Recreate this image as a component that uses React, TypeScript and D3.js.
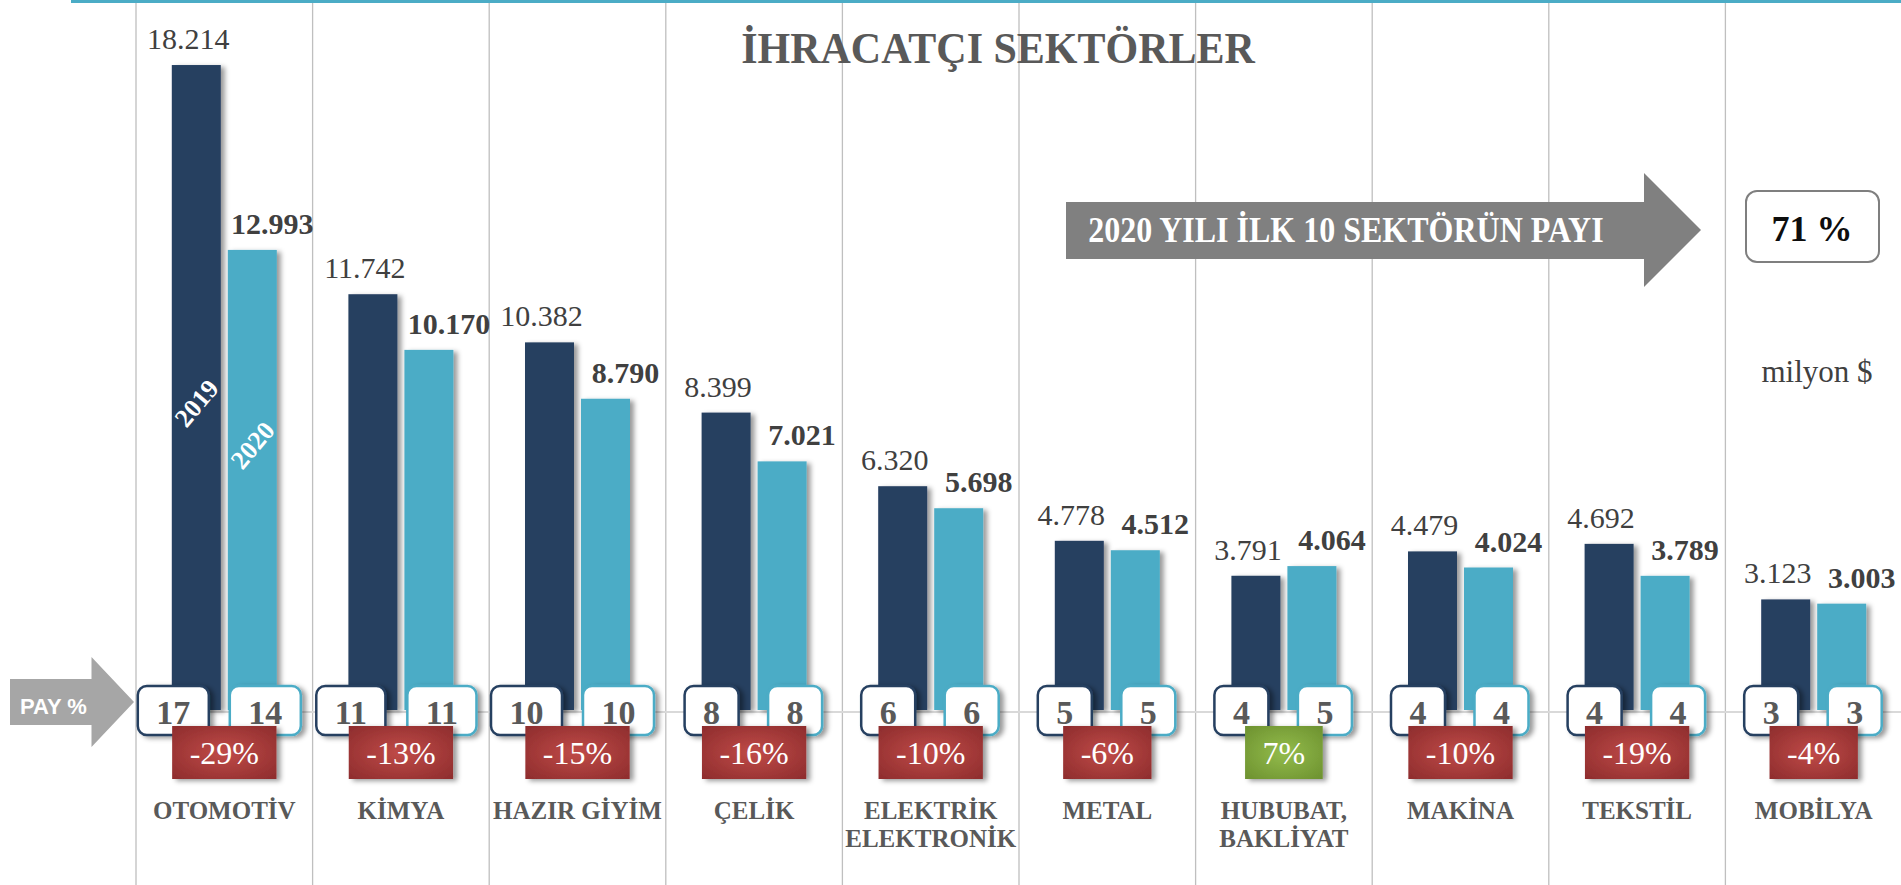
import React, { useEffect, useRef } from "react"
import * as d3 from "d3"

const WIDTH = 1901
const HEIGHT = 885

// sector names, "\n" splits a label into two lines
const sectors = [
  "OTOMOTİV", "KİMYA", "HAZIR GİYİM", "ÇELİK", "ELEKTRİK\nELEKTRONİK",
  "METAL", "HUBUBAT,\nBAKLİYAT", "MAKİNA", "TEKSTİL", "MOBİLYA"
]
const years = ["2019", "2020"]
const exports2019 = [18214, 11742, 10382, 8399, 6320, 4778, 3791, 4479, 4692, 3123]
const exports2020 = [12993, 10170, 8790, 7021, 5698, 4512, 4064, 4024, 3789, 3003]
const share2019 = [17, 11, 10, 8, 6, 5, 4, 4, 4, 3]
const share2020 = [14, 11, 10, 8, 6, 5, 5, 4, 4, 3]
const changePct = [-29, -13, -15, -16, -10, -6, 7, -10, -19, -4]
const topTenShare = 71

const NAVY = "#253F61"
const CYAN = "#4BACC6"
const SERIF = "'Liberation Serif', 'Times New Roman', serif"
const SANS = "'Liberation Sans Narrow', 'Liberation Sans', Arial, sans-serif"

const trFormat = d3.formatLocale({
  decimal: ",", thousands: ".", grouping: [3], currency: ["", " $"]
}).format(",")

function App() {
  const svgRef = useRef<SVGSVGElement>(null)

  useEffect(() => {
    const svg = d3.select(svgRef.current)
    svg.selectAll("*").remove()

    const rows = sectors.map((s, i) => ({
      sector: s,
      vals: [exports2019[i], exports2020[i]],
      shares: [share2019[i], share2020[i]],
      change: changePct[i],
    }))

    const x0 = d3.scaleBand().domain(sectors).range([136, 1902]).padding(0)
    const bw = x0.bandwidth()
    const x1 = d3.scaleBand().domain(years)
      .range([(bw - 105) / 2, (bw + 105) / 2]).paddingInner(0.125)
    const y = d3.scaleLinear().domain([0, 20000]).range([710, 1.8])

    // defs: shadows + gradients
    const defs = svg.append("defs")
    const sh = defs.append("filter").attr("id", "shadow")
      .attr("x", "-20%").attr("y", "-20%").attr("width", "150%").attr("height", "150%")
    sh.append("feDropShadow").attr("dx", 4).attr("dy", 2).attr("stdDeviation", 2.5)
      .attr("flood-color", "#000").attr("flood-opacity", 0.4)
    const grad = (id: string, inner: string, outer: string) => {
      const g = defs.append("radialGradient").attr("id", id)
        .attr("cx", "50%").attr("cy", "50%").attr("r", "75%")
      g.append("stop").attr("offset", "0%").attr("stop-color", inner)
      g.append("stop").attr("offset", "100%").attr("stop-color", outer)
    }
    grad("redGrad", "#C04B48", "#8A2A2B")
    grad("greenGrad", "#93BC4C", "#6A8E2D")

    svg.append("rect").attr("width", WIDTH).attr("height", HEIGHT).attr("fill", "#fff")

    // vertical grid lines
    svg.append("g").selectAll("line")
      .data(sectors)
      .enter().append("line")
        .attr("x1", d => x0(d)!).attr("x2", d => x0(d)!)
        .attr("y1", 0).attr("y2", HEIGHT)
        .attr("stroke", "#BFBFBF").attr("stroke-width", 1.3)

    // top rule
    svg.append("line").attr("x1", 71).attr("x2", WIDTH).attr("y1", 1.5).attr("y2", 1.5)
      .attr("stroke", CYAN).attr("stroke-width", 3)

    // axis baseline
    svg.append("line").attr("x1", 136).attr("x2", WIDTH).attr("y1", y(0) + 2).attr("y2", y(0) + 2)
      .attr("stroke", "#D9D9D9").attr("stroke-width", 2)

    // title (slightly stretched vertically like the original)
    svg.append("text")
      .attr("transform", "translate(998,63) scale(1,1.07)")
      .attr("text-anchor", "middle").attr("font-family", SERIF)
      .attr("font-size", 42).attr("font-weight", "bold").attr("fill", "#595959")
      .text("İHRACATÇI SEKTÖRLER")

    const groups = svg.append("g").selectAll("g.sector")
      .data(rows)
      .enter().append("g")
        .attr("class", "sector")
        .attr("transform", d => `translate(${x0(d.sector)},0)`)

    // bars
    groups.selectAll("rect.bar")
      .data(d => d.vals.map((v, j) => ({ year: years[j], v })))
      .enter().append("rect")
        .attr("class", "bar")
        .attr("x", d => x1(d.year)!)
        .attr("y", d => y(d.v))
        .attr("width", x1.bandwidth())
        .attr("height", d => y(0) - y(d.v))
        .attr("fill", d => d.year === "2019" ? NAVY : CYAN)
        .attr("filter", "url(#shadow)")

    // value labels
    groups.selectAll("text.val")
      .data(d => d.vals.map((v, j) => ({ year: years[j], v })))
      .enter().append("text")
        .attr("class", "val")
        .attr("x", d => x1(d.year)! + x1.bandwidth() / 2 + (d.year === "2019" ? -8 : 20))
        .attr("y", d => y(d.v) - 16)
        .attr("text-anchor", "middle")
        .attr("font-family", SERIF).attr("font-size", 30)
        .attr("font-weight", d => d.year === "2019" ? "normal" : "bold")
        .attr("fill", "#404040")
        .text(d => trFormat(d.v))

    // series names inside first bars
    svg.append("g").selectAll("text")
      .data(years)
      .enter().append("text")
        .attr("transform", (d, j) => {
          const cx = x0(sectors[0])! + x1(d)! + x1.bandwidth() / 2
          const cy = y(0) - (j === 0 ? 307 : 265)
          return `translate(${cx},${cy}) rotate(-50)`
        })
        .attr("text-anchor", "middle").attr("dy", "0.35em")
        .attr("font-family", SERIF).attr("font-size", 26).attr("font-weight", "bold")
        .attr("fill", "#fff")
        .text(d => d)

    // share (PAY %) boxes
    groups.each(function (d) {
      const g = d3.select(this)
      years.forEach((yr, j) => {
        const bx = x1(yr)!
        const box = g.append("g")
        const rect = box.append("rect")
        const t = box.append("text")
          .attr("text-anchor", "middle")
          .attr("font-family", SERIF).attr("font-size", 34).attr("font-weight", "bold")
          .attr("fill", "#595959")
          .text(String(d.shares[j]))
        const tw = (t.node() as SVGTextElement).getComputedTextLength()
        const w = tw + 37
        const left = j === 0 ? bx + 37 - w : bx + x1.bandwidth() / 2 + 13 - w / 2
        rect.attr("x", left).attr("y", 686).attr("width", w).attr("height", 49)
          .attr("rx", 9).attr("fill", "#fff")
          .attr("stroke", j === 0 ? NAVY : CYAN).attr("stroke-width", 2.5)
          .attr("filter", "url(#shadow)")
        t.attr("x", left + w / 2).attr("y", 724)
      })
    })

    // change boxes
    groups.each(function (d) {
      const g = d3.select(this)
      const box = g.append("g")
      const rect = box.append("rect")
      const t = box.append("text")
        .attr("text-anchor", "middle")
        .attr("font-family", SERIF).attr("font-size", 32)
        .attr("fill", "#fff")
        .text(`${d.change}%`)
      const tw = (t.node() as SVGTextElement).getComputedTextLength()
      const w = tw + 35
      const cx = bw / 2
      rect.attr("x", cx - w / 2).attr("y", 726).attr("width", w).attr("height", 53)
        .attr("fill", d.change < 0 ? "url(#redGrad)" : "url(#greenGrad)")
        .attr("filter", "url(#shadow)")
      t.attr("x", cx).attr("y", 764)
    })

    // category labels
    groups.append("text")
      .attr("text-anchor", "middle")
      .attr("font-family", SERIF).attr("font-size", 25).attr("font-weight", "bold")
      .attr("fill", "#595959")
      .selectAll("tspan")
      .data(d => d.sector.split("\n"))
      .enter().append("tspan")
        .attr("x", bw / 2)
        .attr("y", (d, k) => 819 + k * 28)
        .text(d => d)

    // PAY % arrow
    svg.append("polygon")
      .attr("points", "10,679 91.5,679 91.5,657 134,702 91.5,747 91.5,725 10,725")
      .attr("fill", "#A6A6A6")
    svg.append("text").attr("x", 20).attr("y", 714)
      .attr("font-family", SANS).attr("font-size", 22).attr("font-weight", "bold")
      .attr("fill", "#fff").text("PAY %")

    // top-10 share arrow
    svg.append("polygon")
      .attr("points", "1066,202 1644,202 1644,173 1701,230 1644,287 1644,259 1066,259")
      .attr("fill", "#808080")
    svg.append("text")
      .attr("transform", "translate(1346,242) scale(1,1.12)")
      .attr("text-anchor", "middle")
      .attr("font-family", SERIF).attr("font-size", 32).attr("font-weight", "bold")
      .attr("fill", "#fff").text("2020 YILI İLK 10 SEKTÖRÜN PAYI")

    svg.append("rect").attr("x", 1746).attr("y", 191).attr("width", 133).attr("height", 71)
      .attr("rx", 11).attr("fill", "#fff").attr("stroke", "#7F7F7F").attr("stroke-width", 2)
    svg.append("text").attr("x", 1812).attr("y", 241)
      .attr("text-anchor", "middle")
      .attr("font-family", SERIF).attr("font-size", 36).attr("font-weight", "bold")
      .attr("fill", "#0D0D0D").text(`${topTenShare} %`)

    svg.append("text").attr("x", 1817).attr("y", 382)
      .attr("text-anchor", "middle")
      .attr("font-family", SERIF).attr("font-size", 31)
      .attr("fill", "#404040").text("milyon $")
  }, [])

  return (
    <svg
      ref={svgRef}
      width={WIDTH}
      height={HEIGHT}
      style={{ position: "absolute", left: 0, top: 0, display: "block" }}
    ></svg>
  )
}

export default App
